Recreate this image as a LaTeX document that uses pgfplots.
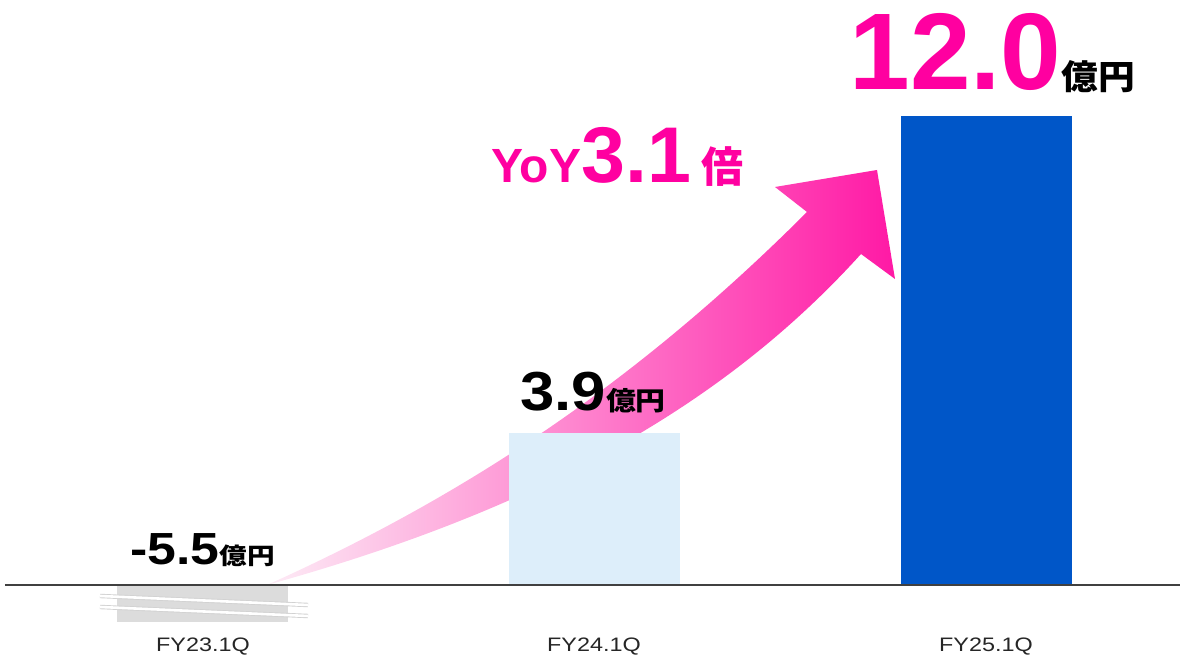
\documentclass[border=0pt]{standalone}
\usepackage{pgfplots}
\pgfplotsset{compat=1.18}
\usepackage{graphicx}
\usepackage{fontspec}
\setmainfont{Liberation Sans}
\newfontfamily\jp{Noto Sans CJK JP}
\definecolor{pinkT}{RGB}{255,0,160}
\definecolor{barGray}{RGB}{220,220,220}
\definecolor{barLight}{RGB}{221,238,250}
\definecolor{barDark}{RGB}{0,86,200}
\definecolor{axisGray}{RGB}{64,64,64}
\definecolor{arrA}{RGB}{253,236,246}
\definecolor{arrB}{RGB}{255,150,210}
\definecolor{arrC}{RGB}{255,25,165}
\begin{document}
\begin{tikzpicture}
\useasboundingbox (0,0) rectangle (590pt,329pt);
% decorative arrow (behind bars), pixel coordinates of the 1180x658 frame
\begin{scope}[shift={(0,329pt)}, x=0.5pt, y=-0.5pt]
\shade[left color=arrA, middle color=arrB, right color=arrC]
  (267,585) .. controls (467,495) and (637,382) .. (807,212)
  -- (775,187) -- (877,170) -- (895,279) -- (861,254)
  .. controls (720,410) and (530,512) .. (267,585) -- cycle;
\end{scope}
\begin{axis}[
  at={(0,0)}, anchor=south west,
  scale only axis, width=590pt, height=329pt,
  xmin=-0.5185, xmax=2.4955, ymin=-1.867, ymax=14.962,
  hide axis, clip=false,
  ybar, bar width=85.5pt, bar shift=0pt,
]
% FY23.1Q = -5.5 (drawn truncated with an axis break, as in the source)
\addplot[fill=barGray, draw=none] coordinates {(0,-0.95)};
\addplot[fill=barLight, draw=none] coordinates {(1,3.9)};
\addplot[fill=barDark, draw=none] coordinates {(2,12.0)};
\draw[axisGray, line width=1pt] (axis cs:-0.506,0) -- (axis cs:2.4955,0);
\end{axis}
\begin{scope}[shift={(0,329pt)}, x=0.5pt, y=-0.5pt]
% axis break marks on the truncated bar
\foreach \ya/\yb in {596/605, 607/616}{
  \draw[gray!35, line width=2.2pt] (100,\ya) -- (308,\yb);
  \draw[white, line width=1.3pt] (100,\ya) -- (308,\yb);
}
% value labels
\node[anchor=base west, inner sep=0pt, text=pinkT] at (849,90)
  {\fontsize{54.5}{60}\selectfont\bfseries 12.0\textcolor{black}{\scalebox{1.08}[1]{\jp\fontsize{17}{20}\selectfont\bfseries 億円}}};
\node[anchor=base west, inner sep=0pt, text=pinkT] at (491,183)
  {\fontsize{24}{26}\selectfont\bfseries YoY\fontsize{39.5}{42}\selectfont 3.1\hspace{5pt}{\jp\fontsize{21}{24}\selectfont\bfseries 倍}};
\node[anchor=base west, inner sep=0pt] at (520,411)
  {\fontsize{27.5}{30}\selectfont\bfseries \scalebox{1.12}[1]{3.9}\scalebox{1.15}[1]{\jp\fontsize{13}{15}\selectfont\bfseries 億円}};
\node[anchor=base west, inner sep=0pt] at (130,565)
  {\fontsize{22.5}{26}\selectfont\bfseries \scalebox{1.15}[1]{-5.5}\scalebox{1.2}[1]{\jp\fontsize{11.5}{14}\selectfont\bfseries 億円}};
% category labels
\foreach \cx/\lab in {203/FY23.1Q, 594/FY24.1Q, 986/FY25.1Q}{
  \node[anchor=base, inner sep=0pt, text=black!85] at (\cx,652) {\fontsize{9.75}{12}\selectfont \scalebox{1.2}[1]{\lab}};
}
\end{scope}
\end{tikzpicture}
\end{document}
